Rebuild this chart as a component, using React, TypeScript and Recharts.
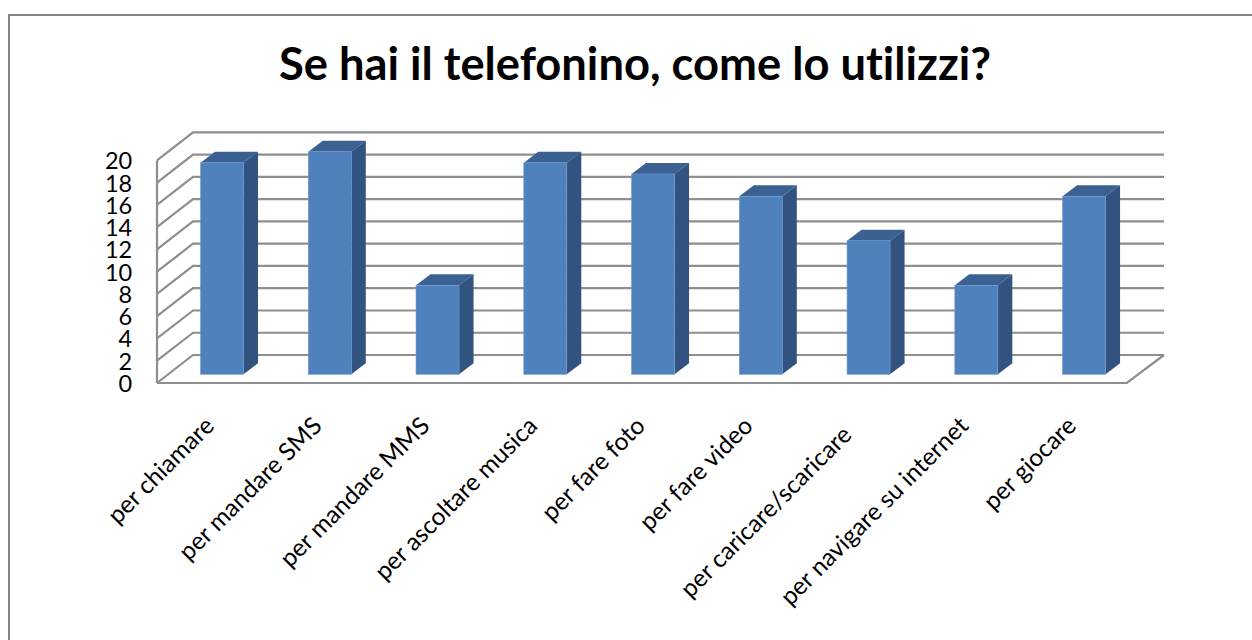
import React from 'react';
import { BarChart, Bar, XAxis, YAxis, CartesianGrid } from 'recharts';

const categories = [
  'per chiamare',
  'per mandare SMS',
  'per mandare MMS',
  'per ascoltare musica',
  'per fare foto',
  'per fare video',
  'per caricare/scaricare',
  'per navigare su internet',
  'per giocare',
];
const answers = [19, 20, 8, 19, 18, 16, 12, 8, 16];
const yTicks = [0, 2, 4, 6, 8, 10, 12, 14, 16, 18, 20];

const tableData = categories.map((name, i) => ({ name, value: answers[i] }));

const WIDTH = 1252;
const HEIGHT = 640;
const MARGIN = { top: 151.7, right: 114, bottom: 65.7, left: 108.2 };
const PLOT_TOP = MARGIN.top;
const PLOT_BOTTOM = 374.3;

// the bars stand part way into the floor, so the walls are offset from the plot plane
const FRONT = { x: -11.2, y: 8.7 };
const BACK = { x: 24.8, y: -19.3 };
const BAR_DEPTH = { x: 14.5, y: -11 };

const GRID_COLOR = '#8e8e8e';
const FONT = 'Lato, sans-serif';

function WallLine(props: any) {
  const { x1, x2, y1 } = props;
  const fx = x1 + FRONT.x;
  const fy = y1 + FRONT.y;
  const bx = x1 + BACK.x;
  const by = y1 + BACK.y;
  const rx = x2 + BACK.x + 1.2;
  const isFloor = Math.abs(y1 - PLOT_BOTTOM) < 1;
  const isTop = Math.abs(y1 - PLOT_TOP) < 1;
  return (
    <g fill="none" stroke={GRID_COLOR} strokeWidth={2.2}>
      <polyline points={`${fx},${fy} ${bx},${by} ${rx},${by}`} />
      {isFloor && <polyline points={`${fx},${fy} ${x2 + FRONT.x},${fy} ${rx},${by}`} />}
      {isTop && <line x1={fx} y1={fy} x2={fx} y2={PLOT_BOTTOM + FRONT.y} />}
    </g>
  );
}

function Bar3D(props: any) {
  const { x, y, width, height } = props;
  const dx = BAR_DEPTH.x;
  const dy = BAR_DEPTH.y;
  return (
    <g>
      <polygon
        points={`${x},${y} ${x + dx},${y + dy} ${x + width + dx},${y + dy} ${x + width},${y}`}
        fill="#3a6191"
      />
      <polygon
        points={`${x + width},${y} ${x + width + dx},${y + dy} ${x + width + dx},${y + height + dy} ${x + width},${y + height}`}
        fill="#32537f"
      />
      <rect x={x} y={y} width={width} height={height} fill="#4f81bd" stroke="#6f9ad0" strokeWidth={0.6} />
    </g>
  );
}

function ValueTick(props: any) {
  const { x, y, payload } = props;
  return (
    <text x={x - 28} y={y + FRONT.y} dy={9} textAnchor="end" fontFamily={FONT} fontSize={23.5} fill="#000">
      {payload.value}
    </text>
  );
}

function CategoryTick(props: any) {
  const { x, y, payload } = props;
  // the label with the slash sits a bit lower and further left than the rest
  const slashed = payload.value.includes('/');
  const ex = x - 6.5 - (slashed ? 9 : 0);
  const ey = y + 45 + (slashed ? 9 : 0);
  return (
    <text
      x={ex}
      y={ey}
      textAnchor="end"
      transform={`rotate(-45 ${ex} ${ey})`}
      fontFamily={FONT}
      fontSize={24.5}
      fill="#000"
      style={{ fontVariantLigatures: 'none' }}
    >
      {payload.value}
    </text>
  );
}

export default function App() {
  return (
    <div style={{ position: 'absolute', left: 0, top: 0, width: WIDTH, height: HEIGHT, overflow: 'hidden', background: '#fff' }}>
      <div
        style={{
          position: 'absolute',
          left: 7.5,
          top: 13.5,
          right: 0,
          bottom: 0,
          borderLeft: '2px solid #858585',
          borderTop: '2px solid #858585',
        }}
      />
      <div style={{ position: 'absolute', left: 0, top: 0 }}>
        <BarChart width={WIDTH} height={HEIGHT} data={tableData} margin={MARGIN} barCategoryGap="30%">
          <CartesianGrid vertical={false} horizontal={(p: any) => <WallLine key={p.key} {...p} />} />
          <XAxis dataKey="name" interval={0} height={200} axisLine={false} tickLine={false} tick={<CategoryTick />} />
          <YAxis
            width={60}
            domain={[0, 20]}
            ticks={yTicks}
            interval={0}
            axisLine={false}
            tickLine={false}
            tick={<ValueTick />}
          />
          <Bar dataKey="value" isAnimationActive={false} shape={<Bar3D />} />
          <text
            x={635}
            y={80}
            textAnchor="middle"
            fontFamily={FONT}
            fontWeight={700}
            fontSize={45.3}
            fill="#000"
            style={{ fontVariantLigatures: 'none' }}
          >
            Se hai il telefonino, come lo utilizzi?
          </text>
        </BarChart>
      </div>
    </div>
  );
}
